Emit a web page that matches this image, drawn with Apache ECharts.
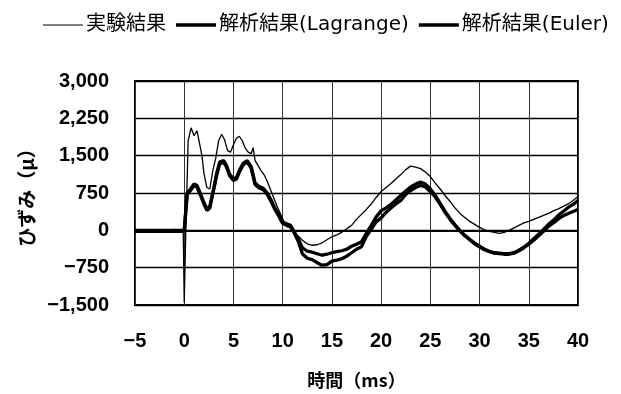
<!DOCTYPE html>
<html><head><meta charset="utf-8">
<script src="https://cdn.jsdelivr.net/npm/echarts@6/dist/echarts.min.js"></script>
<style>html,body{margin:0;padding:0;background:#fff}#c{width:621px;height:394px}</style>
</head><body><div id="c"></div>
<script>
const seriesNames = ['実験結果', '解析結果(Lagrange)', '解析結果(Euler)'];
const yTicks = [-1500, -750, 0, 750, 1500, 2250, 3000];
const xTicks = [-5, 0, 5, 10, 15, 20, 25, 30, 35, 40];

const expT = [-5,-4.5,-4,-3.5,-3,-2.5,-2,-1.5,-1,-0.5,-0.1,0,0.15,0.4,0.7,1.0,1.3,1.6,1.8,2.0,
  2.3,2.6,2.9,3.2,3.5,3.8,4.1,4.4,4.7,5.0,5.3,5.6,5.9,6.2,6.5,6.8,7.0,7.2,7.5,7.8,
  8.1,8.4,8.7,9.0,9.4,9.8,10.1,10.5,11.0,11.5,12.0,12.5,13.0,13.5,14.0,14.5,15.0,15.5,16.0,16.5,
  17.0,17.5,18.0,18.5,19.0,19.5,20.0,20.5,21.0,21.5,22.0,22.5,23.0,23.5,24.0,24.5,25.0,25.5,26.0,26.5,
  27.0,27.5,28.0,28.5,29.0,29.5,30.0,30.5,31.0,31.5,32.0,32.5,33.0,33.5,34.0,34.5,35.0,35.5,36.0,36.5,
  37.0,37.5,38.0,38.5,39.0,39.5,40.0];
const expV = [0,10,-20,0,-30,10,-40,-10,20,-20,0,-1450,-100,1800,2060,1900,2000,1700,1500,1150,
  860,830,1200,1450,1800,1930,1820,1600,1570,1720,1850,1890,1800,1650,1570,1540,1660,1400,1300,1200,
  1120,1000,850,700,500,320,180,120,20,-100,-200,-270,-300,-290,-250,-190,-130,-90,-40,30,
  100,220,320,420,530,660,780,860,940,1030,1120,1220,1290,1270,1240,1170,1080,950,830,700,
  580,450,340,260,180,120,60,10,-20,-40,-60,-40,0,50,100,150,180,220,260,300,
  340,390,430,480,530,600,680];

const anaT = [-5,-4,-3,-2,-1,0,0.3,0.6,1.0,1.3,1.6,2.0,2.3,2.6,3.0,3.3,3.6,4.0,4.3,4.6,
  5.0,5.3,5.6,6.0,6.4,6.8,7.2,7.6,8.0,8.4,8.8,9.2,9.6,10.0,10.4,10.8,11.2,11.6,12.0,12.5,
  13.0,13.5,14.0,14.5,15.0,15.5,16.0,16.5,17.0,17.5,18.0,18.5,19.0,19.5,20.0,20.5,21.0,21.5,22.0,22.5,
  23.0,23.5,24.0,24.5,25.0,25.5,26.0,26.5,27.0,27.5,28.0,28.5,29.0,29.5,30.0,30.5,31.0,31.5,32.0,32.5,
  33.0,33.5,34.0,34.5,35.0,35.5,36.0,36.5,37.0,37.5,38.0,38.5,39.0,39.5,40.0];
const lagV = [0,0,0,0,0,0,750,820,930,900,760,560,430,480,850,1150,1370,1400,1300,1130,
  1030,1060,1200,1350,1400,1280,950,880,850,760,620,450,320,170,130,100,-40,-180,-350,-420,
  -440,-470,-500,-480,-450,-430,-410,-380,-320,-280,-230,-60,100,270,390,450,520,610,700,790,
  870,930,970,930,830,700,540,380,240,110,0,-100,-180,-260,-320,-380,-420,-450,-460,-470,
  -470,-450,-400,-340,-260,-170,-80,20,120,200,300,380,460,520,600];
const eulV = [-20,-20,-20,-20,-20,-20,720,790,900,870,730,530,400,450,820,1110,1330,1370,1270,1100,
  1000,1030,1170,1320,1370,1250,920,850,820,730,590,420,290,140,100,70,-60,-230,-470,-560,
  -590,-650,-700,-690,-620,-600,-570,-520,-450,-380,-330,-120,20,170,250,360,450,530,600,720,
  800,860,900,870,780,670,520,360,220,100,-10,-110,-190,-270,-330,-390,-430,-460,-470,-480,
  -480,-460,-410,-350,-280,-200,-110,-20,80,150,230,290,340,380,420];

const pair = (t, v) => t.map((x, i) => [x, v[i]]);
const fmt = v => String(v).replace('-', '\u2212').replace(/(\d)(?=(\d{3})+$)/, '$1,');

const chart = echarts.init(document.getElementById('c'), null, {renderer: 'canvas'});
const lblFont = {color: '#000', fontSize: 20, fontWeight: 'bold', fontFamily: 'Liberation Sans, Arial, sans-serif'};
chart.setOption({
  animation: false,
  backgroundColor: '#fff',
  legend: {
    top: 10, left: 38, itemWidth: 40, itemHeight: 14, itemGap: 10,
    textStyle: {color: '#000', fontSize: 20, fontFamily: 'DejaVu Sans, Noto Sans CJK JP', padding: [0, 0, 0, -2]},
    data: seriesNames.map((n, i) => ({name: n, icon: 'path://M0,0 H40 V' + (i === 0 ? 1.2 : 3.4) + ' H0 Z'}))
  },
  grid: {left: 135, right: 43, top: 81, bottom: 87, show: true, borderColor: '#000', borderWidth: 2, backgroundColor: 'transparent'},
  xAxis: {
    type: 'value', min: xTicks[0], max: xTicks[xTicks.length - 1], interval: 5,
    name: '時間（ms）', nameLocation: 'middle', nameGap: 66,
    nameTextStyle: {color: '#000', fontSize: 18, fontFamily: 'Noto Sans CJK JP', fontWeight: 'bold'},
    axisLine: {show: false}, axisTick: {show: false},
    axisLabel: Object.assign({margin: 26, formatter: fmt}, lblFont),
    splitLine: {show: true, lineStyle: {color: '#333', width: 1}}
  },
  yAxis: {
    type: 'value', min: yTicks[0], max: yTicks[yTicks.length - 1], interval: 750,
    name: 'ひずみ（μ）', nameLocation: 'middle', nameGap: 98, nameRotate: 90,
    nameTextStyle: {color: '#000', fontSize: 19, fontFamily: 'Noto Sans CJK JP', fontWeight: 'bold'},
    axisLine: {show: false}, axisTick: {show: false},
    axisLabel: Object.assign({margin: 26, formatter: fmt}, lblFont),
    splitLine: {show: true, lineStyle: {color: '#000', width: 1.3}}
  },
  series: [
    {name: seriesNames[0], type: 'line', showSymbol: false, symbol: 'none', data: pair(expT, expV),
     lineStyle: {color: '#000', width: 1.3}, itemStyle: {color: '#000'}, z: 3,
     markLine: {silent: true, symbol: 'none', label: {show: false}, lineStyle: {color: '#000', width: 2.2, type: 'solid'}, data: [{yAxis: 0}]}},
    {name: seriesNames[1], type: 'line', showSymbol: false, symbol: 'none', data: pair(anaT, lagV),
     lineStyle: {color: '#000', width: 3.3}, itemStyle: {color: '#000'}},
    {name: seriesNames[2], type: 'line', showSymbol: false, symbol: 'none', data: pair(anaT, eulV),
     lineStyle: {color: '#000', width: 3.3}, itemStyle: {color: '#000'}}
  ]
});
</script></body></html>
